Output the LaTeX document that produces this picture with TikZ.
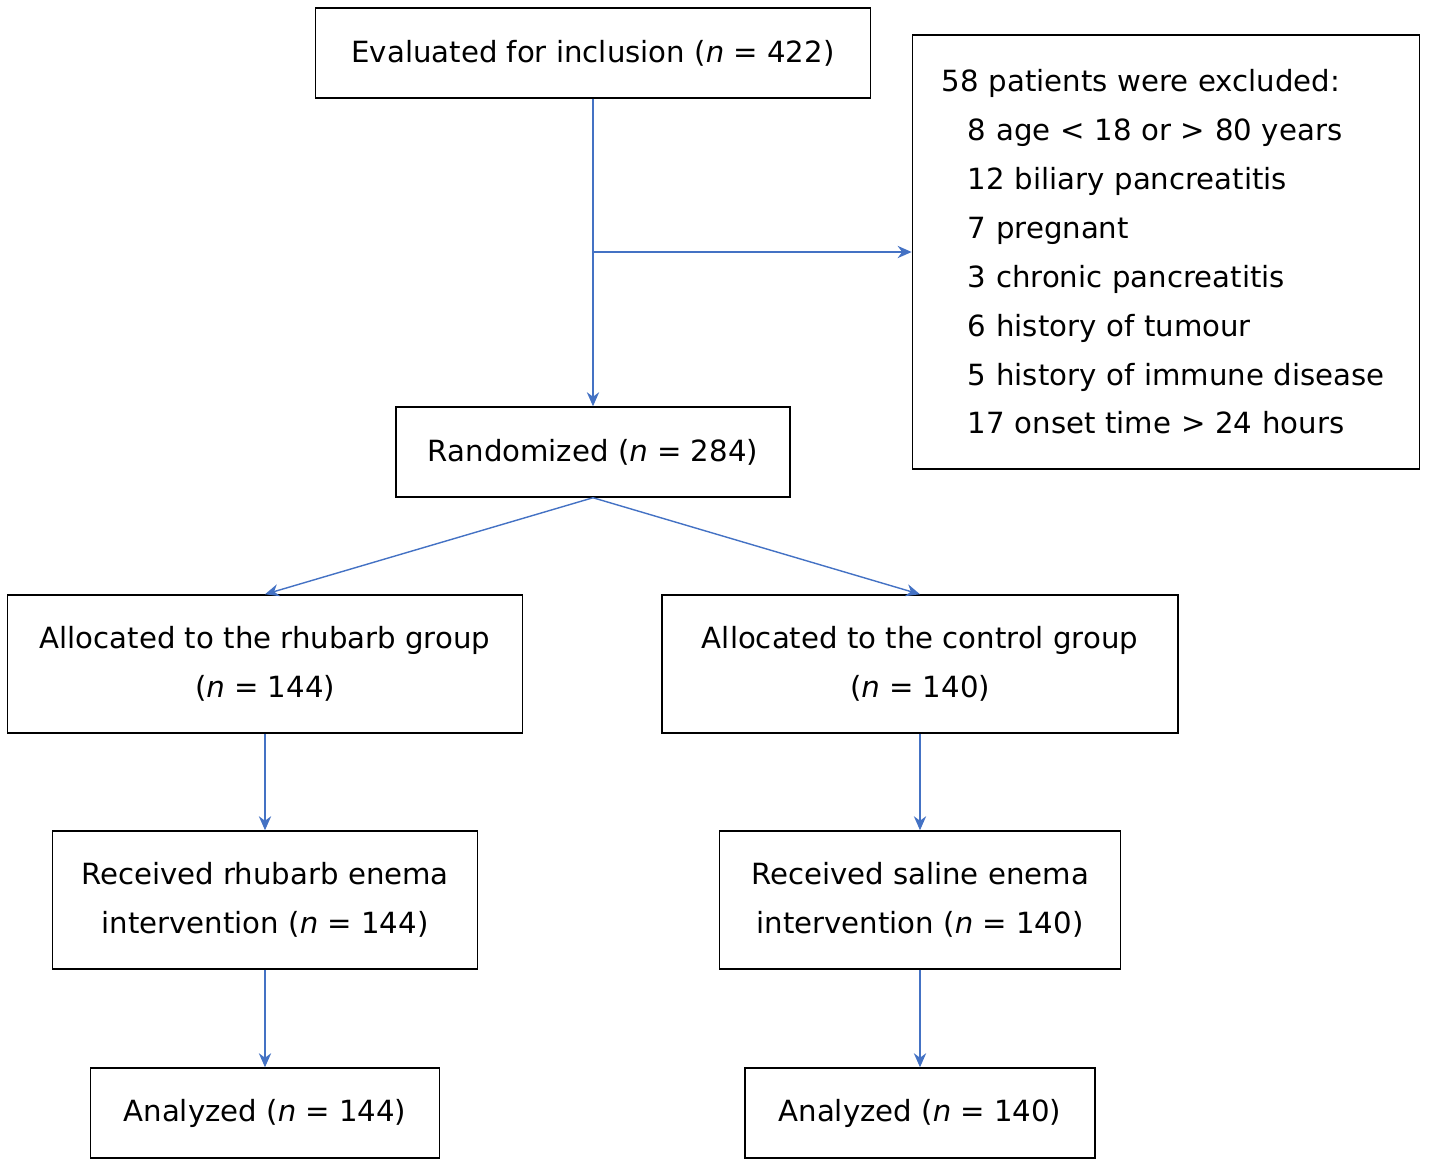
\documentclass[tikz,border=0pt]{standalone}
\usepackage{fontspec}
\setmainfont{DejaVu Sans}
\usetikzlibrary{positioning,arrows.meta}
\definecolor{flowblue}{RGB}{68,114,196}
\tikzset{%
	block/.style = {draw, rectangle, thin, inner sep=0pt, align=center,
		font=\fontsize{8.3}{13.9}\selectfont},
	flow/.style  = {draw=flowblue, thin, -{Stealth[length=4pt,width=3.5pt]}}
}
\begin{document}
\begin{tikzpicture}[x=0.01cm, y=-0.01cm]
	\useasboundingbox (0,0) rectangle (1433,1166);
	\node at (593,53)   [block, minimum width=5.55cm, minimum height=0.9cm]  (eval) {Evaluated for inclusion (\textit{n} = 422)};
	\node at (1166,252) [block, minimum width=5.07cm, minimum height=4.34cm, text width=4.48cm, align=left] (excl)
		{58 patients were excluded:\\
		\hspace*{0.26cm}8 age < 18 or > 80 years\\
		\hspace*{0.26cm}12 biliary pancreatitis\\
		\hspace*{0.26cm}7 pregnant\\
		\hspace*{0.26cm}3 chronic pancreatitis\\
		\hspace*{0.26cm}6 history of tumour\\
		\hspace*{0.26cm}5 history of immune disease\\
		\hspace*{0.26cm}17 onset time > 24 hours};
	\node at (593,452)  [block, minimum width=3.94cm, minimum height=0.9cm]  (rand) {Randomized (\textit{n} = 284)};
	\node at (265,664)  [block, minimum width=5.15cm, minimum height=1.38cm] (rhub) {Allocated to the rhubarb group\\(\textit{n} = 144)};
	\node at (920,664)  [block, minimum width=5.16cm, minimum height=1.38cm] (ctrl) {Allocated to the control group\\(\textit{n} = 140)};
	\node at (265,900)  [block, minimum width=4.25cm, minimum height=1.38cm] (recv1) {Received rhubarb enema\\intervention (\textit{n} = 144)};
	\node at (920,900)  [block, minimum width=4.01cm, minimum height=1.38cm] (recv2) {Received saline enema\\intervention (\textit{n} = 140)};
	\node at (265,1113) [block, minimum width=3.49cm, minimum height=0.9cm]  (an1) {Analyzed (\textit{n} = 144)};
	\node at (920,1113) [block, minimum width=3.5cm, minimum height=0.9cm]   (an2) {Analyzed (\textit{n} = 140)};
	\coordinate (split) at (593,252);
	
	\draw[flow] (eval) -- (rand);
	\draw[flow] (split) -- (split -| excl.west);
	\draw[flow] (rand.south) -- (rhub.north);
	\draw[flow] (rand.south) -- (ctrl.north);
	\draw[flow] (rhub) -- (recv1);
	\draw[flow] (ctrl) -- (recv2);
	\draw[flow] (recv1) -- (an1);
	\draw[flow] (recv2) -- (an2);
\end{tikzpicture}
\end{document}
